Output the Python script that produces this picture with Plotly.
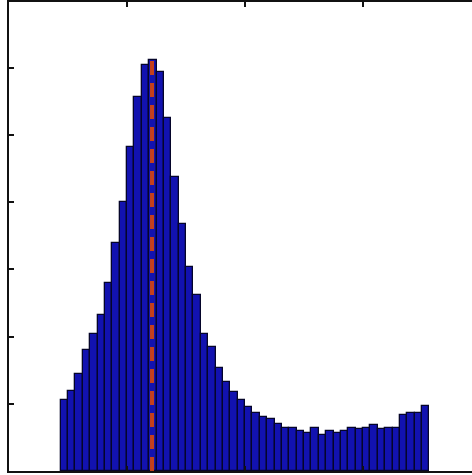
import numpy as np
import plotly.graph_objects as go

# Histogram counts per bin (arbitrary units, one value per bin)
counts = [
    1.06, 1.19, 1.45, 1.80, 2.04, 2.32, 2.80, 3.39, 4.00, 4.82,
    5.56, 6.04, 6.12, 5.94, 5.26, 4.37, 3.68, 3.03, 2.62, 2.04,
    1.84, 1.54, 1.32, 1.17, 1.06, 0.95, 0.87, 0.81, 0.77, 0.70,
    0.64, 0.64, 0.60, 0.56, 0.64, 0.54, 0.59, 0.56, 0.59, 0.64,
    0.62, 0.64, 0.69, 0.62, 0.64, 0.64, 0.84, 0.86, 0.86, 0.97,
]
bin_start = 0.4375
bin_width = 0.0625

# Marker for the distribution's mode/mean
mean_value = 1.212

x_ticks = [1, 2, 3]
y_ticks = [1, 2, 3, 4, 5, 6]

bin_centers = bin_start + bin_width * (np.arange(len(counts)) + 0.5)
# the axes box runs past the right edge of the figure
x_range = [0, 463 / 118]

fig = go.Figure()
fig.add_trace(go.Bar(
    x=bin_centers,
    y=counts,
    width=bin_width,
    marker=dict(color="#1212b0", line=dict(color="#05052a", width=1.3)),
    showlegend=False,
))
fig.add_trace(go.Scatter(
    x=[mean_value, mean_value],
    y=[0, max(counts)],
    mode="lines",
    line=dict(color="#c4401c", width=4, dash="14px,8px"),
    showlegend=False,
))

axis_style = dict(
    showline=True,
    linewidth=2,
    ticks="inside",
    ticklen=5,
    tickwidth=1.5,
    tickcolor="#111111",
    showticklabels=False,
    showgrid=False,
    zeroline=False,
)

fig.update_layout(
    width=472,
    height=475,
    margin=dict(l=9, r=0, t=0, b=4),
    paper_bgcolor="white",
    plot_bgcolor="white",
    bargap=0,
    xaxis=dict(range=x_range, tickvals=x_ticks, mirror="allticks", linecolor="#111111", **axis_style),
    yaxis=dict(range=[0, 6.98], tickvals=y_ticks, mirror=False, linecolor="#111111", **axis_style),
)

fig.write_html("out.html")
